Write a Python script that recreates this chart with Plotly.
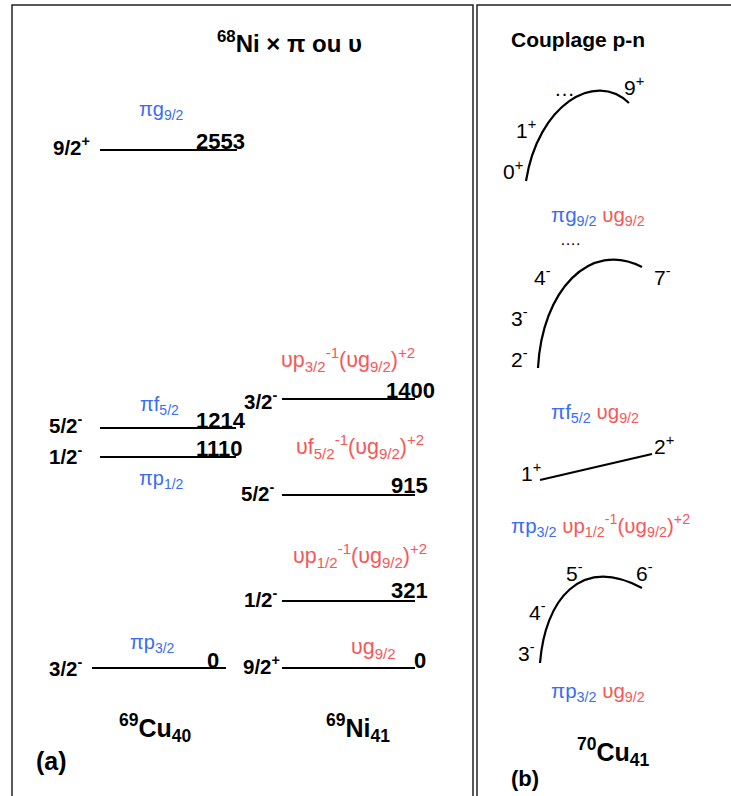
import plotly.graph_objects as go

# ---------------- data ----------------
cu_energies = [0, 1110, 1214, 2553]
cu_spins = ["3/2<sup>-</sup>", "1/2<sup>-</sup>", "5/2<sup>-</sup>", "9/2<sup>+</sup>"]
cu_configs = ["πp<sub>3/2</sub>", "πp<sub>1/2</sub>", "πf<sub>5/2</sub>", "πg<sub>9/2</sub>"]

ni_energies = [0, 321, 915, 1400]
ni_spins = ["9/2<sup>+</sup>", "1/2<sup>-</sup>", "5/2<sup>-</sup>", "3/2<sup>-</sup>"]
ni_configs = [
    "υg<sub>9/2</sub>",
    "υp<sub>1/2</sub><sup>-1</sup>(υg<sub>9/2</sub>)<sup>+2</sup>",
    "υf<sub>5/2</sub><sup>-1</sup>(υg<sub>9/2</sub>)<sup>+2</sup>",
    "υp<sub>3/2</sub><sup>-1</sup>(υg<sub>9/2</sub>)<sup>+2</sup>",
]

mult_spins = [
    ["0<sup>+</sup>", "1<sup>+</sup>", "…", "9<sup>+</sup>"],
    ["2<sup>-</sup>", "3<sup>-</sup>", "4<sup>-</sup>", "7<sup>-</sup>"],
    ["1<sup>+</sup>", "2<sup>+</sup>"],
    ["3<sup>-</sup>", "4<sup>-</sup>", "5<sup>-</sup>", "6<sup>-</sup>"],
]
mult_proton = ["πg<sub>9/2</sub>", "πf<sub>5/2</sub>", "πp<sub>3/2</sub>", "πp<sub>3/2</sub>"]
mult_neutron = [
    "υg<sub>9/2</sub>",
    "υg<sub>9/2</sub>",
    "υp<sub>1/2</sub><sup>-1</sup>(υg<sub>9/2</sub>)<sup>+2</sup>",
    "υg<sub>9/2</sub>",
]

title_a = "<sup>68</sup>Ni × π ou υ"
title_b = "Couplage p-n"
nucleus_a = ["<sup>69</sup>Cu<sub>40</sub>", "<sup>69</sup>Ni<sub>41</sub>"]
nucleus_b = "<sup>70</sup>Cu<sub>41</sub>"
panel_tags = ["(a)", "(b)"]

# ---------------- layout / styling (schematic positions) ----------------
BLUE = "#3a6cf4"
RED = "#f65858"
BLACK = "#000000"
FONT = "Liberation Sans, Arial, sans-serif"

cu_level_y = [668, 457, 428, 150]
cu_line_x = [(92, 226), (100, 236), (100, 236), (100, 237)]
cu_spin_xy = [(47, 667), (47, 455), (47, 424), (51, 146)]
cu_energy_xy = [(205, 660), (194, 448), (194, 420), (194, 141)]
cu_config_xy = [(128, 643), (137, 479), (138, 405), (137, 110)]

ni_level_y = [668, 601, 495, 399]
ni_line_x = [(282, 415)] * 4
ni_spin_xy = [(241, 665), (242, 598), (239, 492), (242, 400)]
ni_energy_xy = [(412, 660), (389, 590), (389, 485), (384, 390)]
ni_config_xy = [(349, 648), (291, 555), (294, 446), (279, 359)]

mult_spin_xy = [
    [(501, 170), (514, 129), (552, 88), (622, 86)],
    [(509, 358), (509, 317), (532, 276), (652, 276)],
    [(519, 472), (652, 445)],
    [(516, 652), (527, 611), (564, 572), (634, 572)],
]
mult_label_xy = [(549, 216), (549, 413), (509, 525), (549, 692)]
mult_paths = [
    "M 526 181 C 538 105, 595 70, 629 103",
    "M 538 368 C 542 290, 590 240, 642 267",
    "M 540 480 L 652 454",
    "M 540 663 C 545 600, 580 555, 642 588",
]

fig = go.Figure()

# level lines
for level_y, line_x in ((cu_level_y, cu_line_x), (ni_level_y, ni_line_x)):
    xs, ys = [], []
    for y, (x0, x1) in zip(level_y, line_x):
        xs += [x0, x1, None]
        ys += [y, y, None]
    fig.add_trace(go.Scatter(x=xs, y=ys, mode="lines",
                             line=dict(color=BLACK, width=2.2),
                             hoverinfo="skip", showlegend=False))

ann = []


def add(x, y, text, size, color=BLACK, bold=False, xanchor="left"):
    t = f"<b>{text}</b>" if bold else text
    ann.append(dict(x=x, y=y, xref="x", yref="y", text=t, showarrow=False,
                    xanchor=xanchor, yanchor="middle",
                    font=dict(family=FONT, size=size, color=color)))


# panel (a)
add(289, 42, title_a, 24, bold=True, xanchor="center")
for spins, energies, configs, sxy, exy, cxy, ccol, csize in (
        (cu_spins, cu_energies, cu_configs, cu_spin_xy, cu_energy_xy, cu_config_xy, BLUE, 20),
        (ni_spins, ni_energies, ni_configs, ni_spin_xy, ni_energy_xy, ni_config_xy, RED, 21.5)):
    for s, e, c, p1, p2, p3 in zip(spins, energies, configs, sxy, exy, cxy):
        add(p1[0], p1[1], s, 20.5, bold=True)
        add(p2[0], p2[1], str(e), 22, bold=True)
        add(p3[0], p3[1], c, csize, color=ccol)

add(117, 728, nucleus_a[0], 25, bold=True)
add(324, 728, nucleus_a[1], 25, bold=True)
add(34, 761, panel_tags[0], 25, bold=True)

# panel (b)
add(509, 39, title_b, 21, bold=True)
for spins, sxy in zip(mult_spins, mult_spin_xy):
    for s, (x, y) in zip(spins, sxy):
        add(x, y, s, 21)
add(558, 239, "….", 16)
for p, n, (x, y) in zip(mult_proton, mult_neutron, mult_label_xy):
    add(x, y, f"<span style='color:{BLUE}'>{p}</span> <span style='color:{RED}'>{n}</span>", 20.5)
add(575, 752, nucleus_b, 25, bold=True)
add(509, 778, panel_tags[1], 22, bold=True)

shapes = [
    dict(type="rect", xref="x", yref="y", x0=12, y0=5, x1=473, y1=830,
         line=dict(color="#222222", width=1.5)),
    dict(type="rect", xref="x", yref="y", x0=477, y0=5, x1=760, y1=830,
         line=dict(color="#222222", width=1.5)),
]
for p in mult_paths:
    shapes.append(dict(type="path", xref="x", yref="y", path=p,
                       line=dict(color=BLACK, width=2.2)))

fig.update_layout(
    width=731, height=796,
    margin=dict(l=0, r=0, t=0, b=0),
    paper_bgcolor="white", plot_bgcolor="white",
    xaxis=dict(range=[0, 731], visible=False, fixedrange=True),
    yaxis=dict(range=[796, 0], visible=False, fixedrange=True),
    annotations=ann, shapes=shapes, showlegend=False,
)

fig.write_html("out.html")
